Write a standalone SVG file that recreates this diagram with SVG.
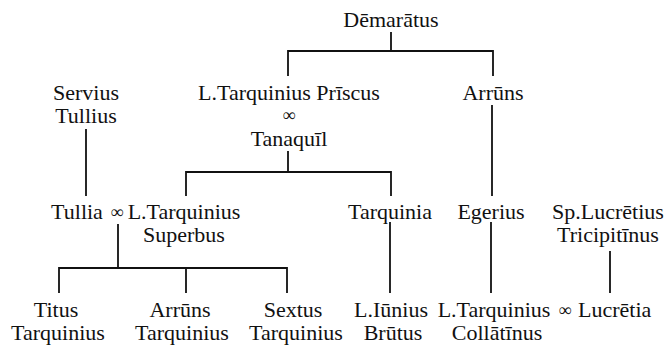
<svg xmlns="http://www.w3.org/2000/svg" width="671" height="345" viewBox="0 0 671 345">
<style>
text { font-family: "Liberation Serif", "Times New Roman", serif; font-size: 22px; fill: #111; text-anchor: middle; }
.st { text-anchor: start; }
.inf { font-size: 18px; }
.con { stroke: #111; stroke-width: 1.8; fill: none; stroke-linecap: square; }
</style>
<rect width="671" height="345" fill="#fff"/>
<g id="connectors" class="con">
  <path d="M391 33 V51 M288 75 V51 H493 V75"/>
  <path d="M492 106 V195"/>
  <path d="M86 130 V195"/>
  <path d="M288 152 V172 M186 195 V172 H391 V195"/>
  <path d="M118 225 V268 M59 292 V268 H287 V292 M186 268 V292"/>
  <path d="M390 223 V292"/>
  <path d="M491 223 V292"/>
  <path d="M610 252 V292"/>
</g>
<g id="demaratus"><text x="391" y="27">Dēmarātus</text></g>
<g id="priscus"><text x="289" y="100">L.Tarquinius Prīscus</text><text class="inf" x="289" y="121">∞</text><text x="289" y="146">Tanaquīl</text></g>
<g id="arruns"><text x="493" y="100">Arrūns</text></g>
<g id="servius"><text x="86" y="100">Servius</text><text x="86" y="123">Tullius</text></g>
<g id="tullia"><text x="77" y="219">Tullia</text><text class="inf" x="117" y="218">∞</text></g>
<g id="superbus"><text x="184" y="219">L.Tarquinius</text><text x="184" y="242">Superbus</text></g>
<g id="tarquinia"><text x="390" y="219">Tarquinia</text></g>
<g id="egerius"><text x="491" y="219">Egerius</text></g>
<g id="lucretius"><text x="608" y="219">Sp.Lucrētius</text><text x="608" y="242">Tricipitīnus</text></g>
<g id="titus"><text x="56" y="317">Titus</text><text x="58" y="340">Tarquinius</text></g>
<g id="arruns2"><text x="180" y="317">Arrūns</text><text x="182" y="340">Tarquinius</text></g>
<g id="sextus"><text x="293" y="317">Sextus</text><text x="296" y="340">Tarquinius</text></g>
<g id="brutus"><text x="391" y="317">L.Iūnius</text><text x="393" y="340">Brūtus</text></g>
<g id="collatinus"><text x="494" y="317">L.Tarquinius</text><text x="497" y="340">Collātīnus</text></g>
<g id="lucretia"><text class="inf" x="565" y="316">∞</text><text class="st" x="578" y="317">Lucrētia</text></g>
</svg>
